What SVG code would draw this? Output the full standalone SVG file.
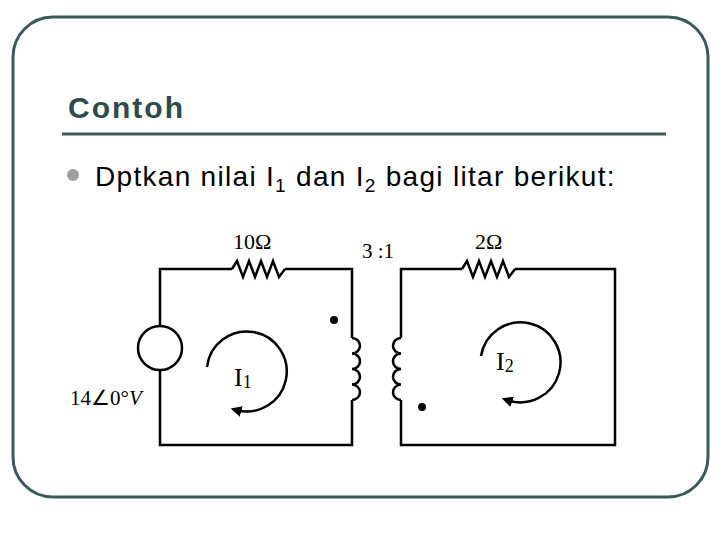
<svg xmlns="http://www.w3.org/2000/svg" width="720" height="540" viewBox="0 0 720 540">
<style>
.w{fill:none;stroke:#000;stroke-width:2.5}
.t{font-family:"Liberation Serif",serif;fill:#000}
</style>
<defs><marker id="ah" viewBox="0 0 10 10" refX="5" refY="5" markerWidth="11" markerHeight="11" markerUnits="userSpaceOnUse" orient="auto"><path d="M0,0L10,5L0,10z" fill="#000"/></marker></defs>
<rect width="720" height="540" fill="#fff"/>
<rect x="13" y="17" width="695" height="480" rx="40" fill="none" stroke="#3a5a5c" stroke-width="3"/>
<text x="68" y="118" font-family="Liberation Sans,sans-serif" font-weight="bold" font-size="30" letter-spacing="2" fill="#2e4a4c">Contoh</text>
<line x1="62" y1="134" x2="666" y2="134" stroke="#3a5a5c" stroke-width="3"/>
<circle cx="73" cy="175" r="6" fill="#a0a0a0"/>
<text x="95" y="186" font-family="Liberation Sans,sans-serif" font-size="28" letter-spacing="1.3" fill="#000">Dptkan nilai I<tspan font-size="19" dy="6">1</tspan><tspan dy="-6"> dan I</tspan><tspan font-size="19" dy="6">2</tspan><tspan dy="-6"> bagi litar berikut:</tspan></text>
<g id="connectors">
<path class="w" d="M160,326V269H232M285,269H352V338M352,400V445H160V370"/>
<path class="w" d="M401,338V269H462M515,269H615V445H401V400"/>
</g>
<g id="source"><circle class="w" cx="160" cy="348" r="22"/><text class="t" x="70" y="405" font-size="21">14∠0°<tspan font-style="italic">V</tspan></text></g>
<g id="r10"><path class="w" stroke-width="1.8" d="M232,269l5,-8l6,16l6,-16l6,16l6,-16l6,16l6,-16l6,16l6,-8"/><text class="t" x="233" y="249" font-size="22">10Ω</text></g>
<g id="r2"><path class="w" stroke-width="1.8" d="M462,269l5,-8l6,16l6,-16l6,16l6,-16l6,16l6,-16l6,16l6,-8"/><text class="t" x="475" y="249" font-size="22">2Ω</text></g>
<g id="transformer">
<path class="w" stroke-width="1.6" d="M352,338a8,7.75 0 0 1 0,15.5a8,7.75 0 0 1 0,15.5a8,7.75 0 0 1 0,15.5a8,7.75 0 0 1 0,15.5"/>
<path class="w" stroke-width="1.6" d="M401,338a8,7.75 0 0 0 0,15.5a8,7.75 0 0 0 0,15.5a8,7.75 0 0 0 0,15.5a8,7.75 0 0 0 0,15.5"/>
<circle cx="334" cy="320" r="4"/><circle cx="422" cy="407" r="4"/>
<text class="t" x="362" y="258" font-size="21">3 :1</text>
</g>
<g id="I1"><path class="w" stroke-width="2" d="M207,367A40,40 0 1 1 236,410" marker-end="url(#ah)"/><text class="t" x="234" y="386" font-size="26">I<tspan font-size="18" dy="2">1</tspan></text></g>
<g id="I2"><path class="w" stroke-width="2" d="M481,356A40,40 0 1 1 507,400" marker-end="url(#ah)"/><text class="t" x="496" y="370" font-size="26">I<tspan font-size="18" dy="2">2</tspan></text></g>
</svg>
